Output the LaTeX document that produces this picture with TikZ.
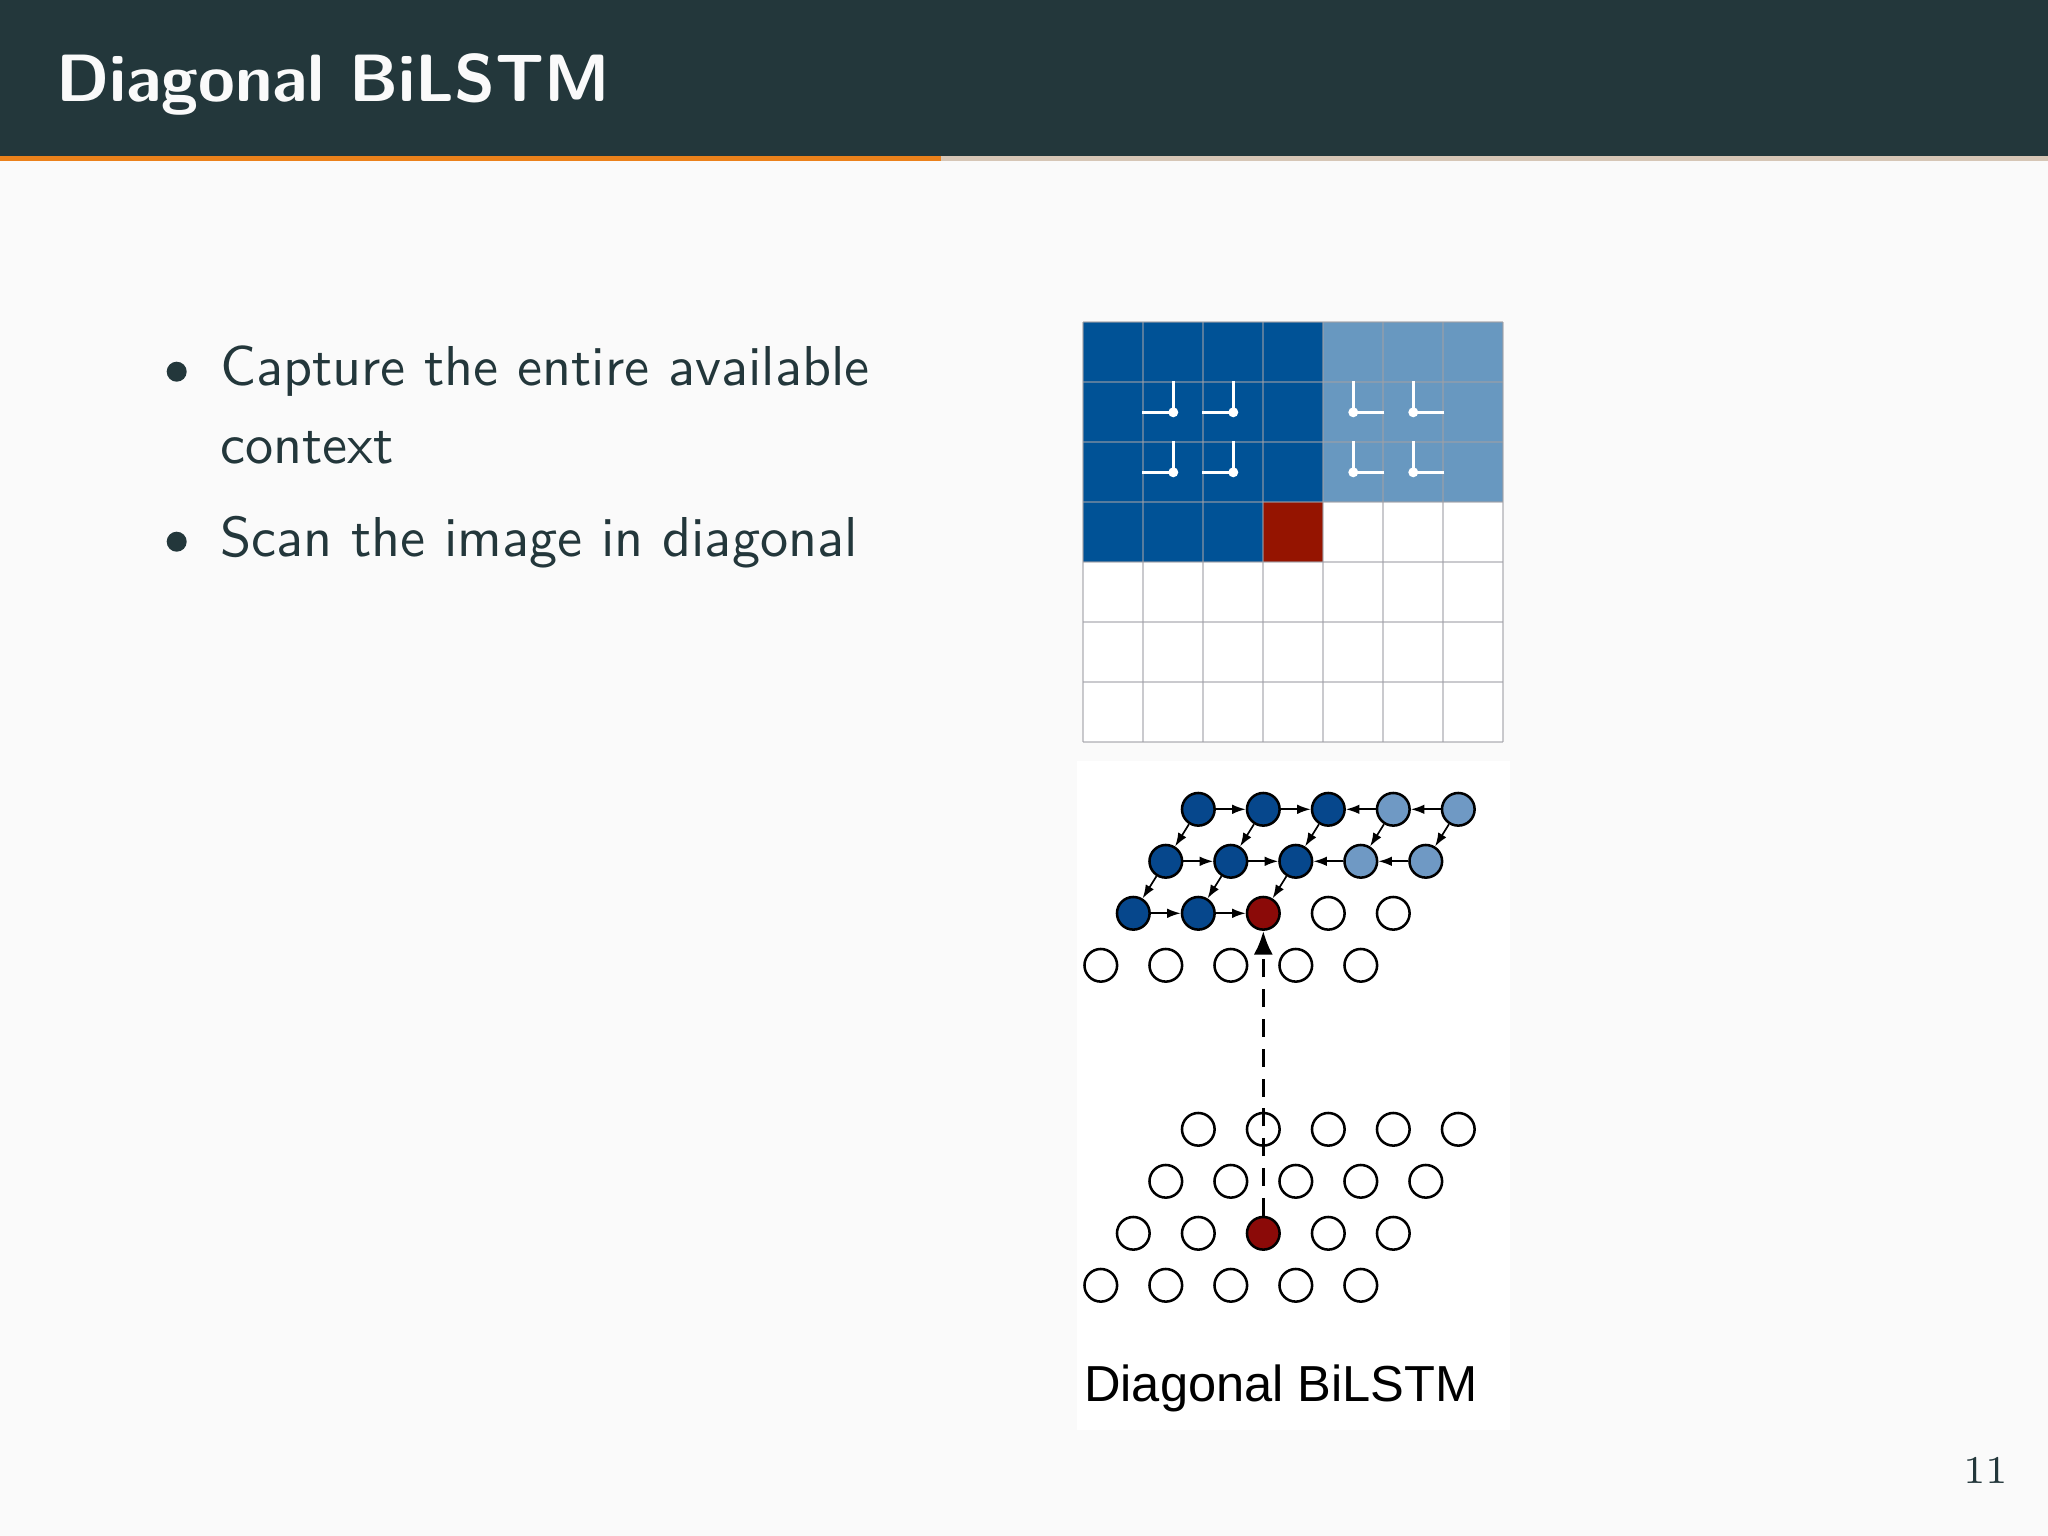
\documentclass[tikz,border=0pt]{standalone}
\usepackage{fontspec}
\newfontfamily\figfont{Liberation Sans}
\usetikzlibrary{arrows.meta}

\definecolor{mDark}{HTML}{23373B}
\definecolor{mBg}{HTML}{FAFAFA}
\definecolor{mOrange}{HTML}{EB811B}
\definecolor{mTrack}{HTML}{D6C6B6}
\definecolor{pixDark}{HTML}{005296}
\definecolor{pixLight}{HTML}{6898C0}
\definecolor{pixRed}{HTML}{951400}
\definecolor{nodeDark}{HTML}{06478C}
\definecolor{nodeLight}{HTML}{6F99C4}
\definecolor{nodeRed}{HTML}{8B0A08}
\definecolor{lineGray}{RGB}{160,160,166}

\tikzset{
  unit/.style={circle,draw=black,line width=0.45pt,minimum size=2.04mm,inner sep=0pt,fill=white},
  dk/.style={unit,fill=nodeDark},
  lt/.style={unit,fill=nodeLight},
  rd/.style={unit,fill=nodeRed},
  harr/.style={-{Latex[length=2.4pt,width=1.7pt]},line width=0.3pt},
  scan/.style={-{Latex[length=4.2pt,width=3.4pt]},line width=0.6pt,dash pattern=on 3.2pt off 2.1pt},
  gline/.style={draw=lineGray,line width=0.3pt,opacity=0.55},
  ctxline/.style={white,line width=0.6pt},
  bul/.style={circle,fill=mDark,minimum size=1.25mm,inner sep=0pt},
  item/.style={anchor=base west,inner sep=0pt,text=mDark,font=\sffamily\fontsize{10}{12}\selectfont}
}

\begin{document}
\begin{tikzpicture}[x=0.0625mm,y=-0.0625mm]
\useasboundingbox (0,0) rectangle (2048,1536);
\fill[mBg] (0,0) rectangle (2048,1536);

% frame title
\fill[mDark] (0,0) rectangle (2048,156);
\fill[mOrange] (0,156) rectangle (940.7,161);
\fill[mTrack] (940.7,156) rectangle (2048,161);
\node[anchor=base west,inner sep=0pt,text=mBg,font=\sffamily\bfseries\fontsize{11.9}{14}\selectfont] (title) at (55,101.7) {Diagonal BiLSTM};

% items
\node[bul] (dotA) at (176.7,371.7) {};
\node[item] (itemA) at (219,385) {Capture the entire available};
\node[item] (itemAb) at (219,463.3) {context};
\node[bul] (dotB) at (176.7,541.7) {};
\node[item] (itemB) at (219,556.7) {Scan the image in diagonal};

% pixel grid
\fill[white] (1083.3,322.3) rectangle (1503.3,742.3);
\fill[pixDark] (1083.3,322.3) rectangle (1323.3,502.3);
\fill[pixDark] (1083.3,502.3) rectangle (1263.3,562.3);
\fill[pixRed] (1263.3,502.3) rectangle (1323.3,562.3);
\fill[pixLight] (1323.3,322.3) rectangle (1503.3,502.3);
\foreach \k in {0,...,7} {
  \draw[gline] ({1083.3+60*\k},322.3) -- ++(0,420);
  \draw[gline] (1083.3,{322.3+60*\k}) -- ++(420,0);
}
\foreach \cx/\cy in {1173.3/412.3,1233.3/412.3,1173.3/472.3,1233.3/472.3} {
  \draw[ctxline] ({\cx-31},\cy) -- (\cx,\cy) -- (\cx,{\cy-31});
  \fill[white] (\cx,\cy) circle (5);
}
\foreach \cx/\cy in {1353.3/412.3,1413.3/412.3,1353.3/472.3,1413.3/472.3} {
  \draw[ctxline] ({\cx+31},\cy) -- (\cx,\cy) -- (\cx,{\cy-31});
  \fill[white] (\cx,\cy) circle (5);
}

% diagonal lstm units
\fill[white] (1077,761) rectangle (1510,1430);
\foreach \r in {1,...,4}
  \foreach \c in {1,...,5} {
    \coordinate (pt-\r-\c) at ({1198.3+65*(\c-1)-32.5*(\r-1)},{809.3+52*(\r-1)});
    \coordinate (pb-\r-\c) at ({1198.3+65*(\c-1)-32.5*(\r-1)},{1129.3+52*(\r-1)});
  }
\foreach \r in {1,2} {
  \foreach \c in {1,2,3} \node[dk] (t-\r-\c) at (pt-\r-\c) {};
  \foreach \c in {4,5} \node[lt] (t-\r-\c) at (pt-\r-\c) {};
}
\foreach \c in {1,2} \node[dk] (t-3-\c) at (pt-3-\c) {};
\node[rd] (t-3-3) at (pt-3-3) {};
\foreach \c in {4,5} \node[unit] (t-3-\c) at (pt-3-\c) {};
\foreach \c in {1,...,5} \node[unit] (t-4-\c) at (pt-4-\c) {};

\foreach \r in {1,2,4}
  \foreach \c in {1,...,5} \node[unit] (b-\r-\c) at (pb-\r-\c) {};
\foreach \c in {1,2,4,5} \node[unit] (b-3-\c) at (pb-3-\c) {};
\node[rd] (b-3-3) at (pb-3-3) {};

\foreach \r in {1,2} {
  \draw[harr] (t-\r-1) -- (t-\r-2);
  \draw[harr] (t-\r-2) -- (t-\r-3);
  \draw[harr] (t-\r-5) -- (t-\r-4);
  \draw[harr] (t-\r-4) -- (t-\r-3);
}
\draw[harr] (t-3-1) -- (t-3-2);
\draw[harr] (t-3-2) -- (t-3-3);
\foreach \c in {1,...,5} \draw[harr] (t-1-\c) -- (t-2-\c);
\foreach \c in {1,2,3} \draw[harr] (t-2-\c) -- (t-3-\c);
\draw[scan] (b-3-3) -- (t-3-3);

\node[anchor=base west,inner sep=0pt,font=\figfont\fontsize{9}{11}\selectfont] (caption) at (1083,1401.7) {Diagonal BiLSTM};

% page number
\node[anchor=base east,inner sep=0pt,text=mDark,font=\rmfamily\fontsize{7}{8}\selectfont] (pagenum) at (2009,1483.3) {11};
\end{tikzpicture}
\end{document}
